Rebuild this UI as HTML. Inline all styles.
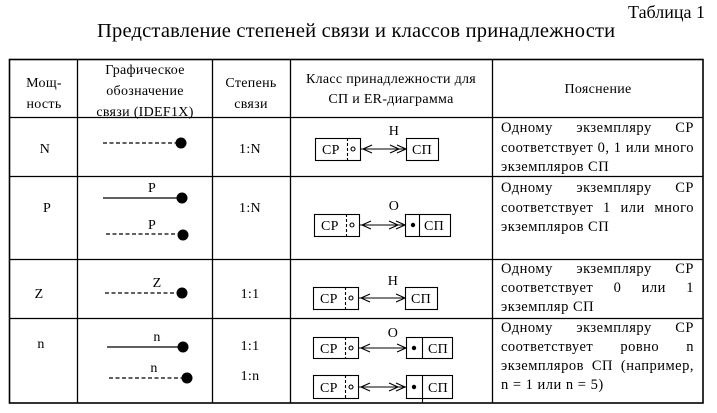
<!DOCTYPE html>
<html><head><meta charset="utf-8"><style>
body{margin:0;background:#fff;width:717px;height:413px;overflow:hidden;position:relative;font-family:"Liberation Serif","DejaVu Serif",serif;color:#000}
.t{position:absolute;white-space:nowrap}
.j{position:absolute;left:501px;width:193px;font-size:14.5px;letter-spacing:0.5px;text-align:justify;text-align-last:justify;white-space:nowrap;line-height:16px}
.l{text-align-last:left}
svg{position:absolute;left:0;top:0}
</style></head><body>
<div class="t" style="right:12px;top:2px;font-size:18px">Таблица 1</div>
<div class="t" style="left:97px;top:20px;font-size:20.5px;letter-spacing:0.2px">Представление степеней связи и классов принадлежности</div>

<svg width="717" height="413" font-family="Liberation Serif, serif" font-size="14" text-anchor="middle" letter-spacing="0.3">
<g stroke="#000" stroke-width="1.3" fill="none">
<rect x="9.5" y="59.5" width="693.5" height="343.5" stroke-width="1.6"/>
<line x1="77.5" y1="59" x2="77.5" y2="403"/>
<line x1="212.5" y1="59" x2="212.5" y2="403"/>
<line x1="290.5" y1="59" x2="290.5" y2="403"/>
<line x1="492.5" y1="59" x2="492.5" y2="403"/>
<line x1="9" y1="117.5" x2="703" y2="117.5"/>
<line x1="9" y1="176.5" x2="703" y2="176.5"/>
<line x1="9" y1="259.5" x2="703" y2="259.5"/>
<line x1="9" y1="318.5" x2="703" y2="318.5"/>
</g>
<text x="44" y="87">Мощ-</text><text x="44" y="108">ность</text>
<text x="145" y="74">Графическое</text><text x="145" y="95">обозначение</text><text x="145" y="116">связи  (IDEF1X)</text>
<text x="251" y="87">Степень</text><text x="251" y="108">связи</text>
<text x="391" y="83">Класс принадлежности для</text><text x="391" y="103">СП и  ER-диаграмма</text>
<text x="598" y="93">Пояснение</text>
<text x="45" y="153">N</text><text x="47" y="212">P</text><text x="39" y="298">Z</text><text x="41" y="348">n</text>
<text x="250" y="153">1:N</text><text x="250" y="212">1:N</text><text x="250" y="298">1:1</text><text x="250" y="350">1:1</text><text x="250" y="380">1:n</text>
<g stroke="#000" stroke-width="1.3">
<line x1="103" y1="143" x2="180" y2="143" stroke-dasharray="4,2.5"/>
<line x1="103" y1="198" x2="180" y2="198"/>
<line x1="106" y1="234" x2="180" y2="234" stroke-dasharray="4,2.5"/>
<line x1="105" y1="293" x2="180" y2="293" stroke-dasharray="4,2.5"/>
<line x1="107" y1="347" x2="180" y2="347"/>
<line x1="109" y1="378" x2="185" y2="378" stroke-dasharray="4,2.5"/>
</g>
<g fill="#000">
<circle cx="181" cy="143" r="5.5"/><circle cx="182" cy="198" r="5.5"/><circle cx="183" cy="235" r="5.5"/>
<circle cx="182" cy="293" r="5.5"/><circle cx="183" cy="347" r="5.5"/><circle cx="187" cy="378" r="5.5"/>
</g>
<text x="152" y="192">P</text><text x="152" y="229">P</text><text x="157" y="287">Z</text><text x="157" y="341">n</text><text x="154" y="372">n</text>
<g font-size="14">
<text x="394" y="135">Н</text><text x="394" y="210">О</text><text x="393" y="285">Н</text><text x="393" y="337">О</text>
</g>
<g stroke="#000" stroke-width="1.1" fill="none">
<rect x="315.5" y="138.5" width="45" height="22"/><line x1="347.5" y1="138" x2="347.5" y2="161" stroke-dasharray="3,2"/>
<circle cx="353" cy="149" r="2"/>
<rect x="406.5" y="138.5" width="32" height="22"/>
<line x1="361" y1="149" x2="406" y2="149"/>
<polyline points="372,145 363,149 372,153"/><polyline points="390,145 399,149 390,153"/><polyline points="397,145 406,149 397,153"/>
<rect x="314.5" y="214.5" width="45" height="22"/><line x1="346.5" y1="214" x2="346.5" y2="237" stroke-dasharray="3,2"/>
<circle cx="352" cy="225" r="2"/>
<rect x="405.5" y="214.5" width="45" height="22"/><line x1="419.5" y1="214" x2="419.5" y2="237"/>
<line x1="360" y1="225" x2="405" y2="225"/>
<polyline points="371,221 362,225 371,229"/><polyline points="389,221 398,225 389,229"/><polyline points="396,221 405,225 396,229"/>
<rect x="313.5" y="287.5" width="45" height="22"/><line x1="345.5" y1="287" x2="345.5" y2="310" stroke-dasharray="3,2"/>
<circle cx="351" cy="298" r="2"/>
<rect x="405.5" y="287.5" width="32" height="22"/>
<line x1="359" y1="298" x2="405" y2="298"/>
<polyline points="370,294 361,298 370,302"/><polyline points="396,294 405,298 396,302"/>
<rect x="313.5" y="337.5" width="45" height="21"/><line x1="345.5" y1="337" x2="345.5" y2="359" stroke-dasharray="3,2"/>
<circle cx="351" cy="348" r="2"/>
<rect x="406.5" y="337.5" width="46" height="21"/><line x1="422.5" y1="337" x2="422.5" y2="359"/>
<line x1="359" y1="348" x2="406" y2="348"/>
<polyline points="370,344 361,348 370,352"/><polyline points="397,344 406,348 397,352"/>
<rect x="313.5" y="375.5" width="45" height="23"/><line x1="345.5" y1="375" x2="345.5" y2="399" stroke-dasharray="3,2"/>
<circle cx="351" cy="387" r="2"/>
<rect x="406.5" y="375.5" width="46" height="23"/><line x1="422.5" y1="375" x2="422.5" y2="403"/>
<line x1="359" y1="387" x2="406" y2="387"/>
<polyline points="370,383 361,387 370,391"/><polyline points="389,383 398,387 389,391"/><polyline points="396,383 405,387 396,391"/>
</g>
<g fill="#000"><circle cx="413" cy="225" r="2.2"/><circle cx="414" cy="348" r="2.2"/><circle cx="414" cy="387" r="2.2"/></g>
<g font-size="14" text-anchor="start">
<text x="322" y="154">СР</text><text x="412" y="154">СП</text>
<text x="321" y="230">СР</text><text x="424" y="230">СП</text>
<text x="320" y="303">СР</text><text x="411" y="303">СП</text>
<text x="320" y="353">СР</text><text x="428" y="353">СП</text>
<text x="320" y="392">СР</text><text x="428" y="392">СП</text>
</g>
</svg>

<div class="j" style="top:120px">Одному экземпляру СР</div>
<div class="j" style="top:140px">соответствует 0, 1 или много</div>
<div class="j l" style="top:159px">экземпляров СП</div>

<div class="j" style="top:180px">Одному экземпляру СР</div>
<div class="j" style="top:200px">соответствует 1 или много</div>
<div class="j l" style="top:219px">экземпляров СП</div>

<div class="j" style="top:261px">Одному экземпляру СР</div>
<div class="j" style="top:280px">соответствует 0 или 1</div>
<div class="j l" style="top:299px">экземпляр СП</div>

<div class="j" style="top:320px">Одному экземпляру СР</div>
<div class="j" style="top:339px">соответствует ровно n</div>
<div class="j" style="top:358px">экземпляров СП (например,</div>
<div class="j l" style="top:377px">n = 1 или n = 5)</div>
</body></html>
